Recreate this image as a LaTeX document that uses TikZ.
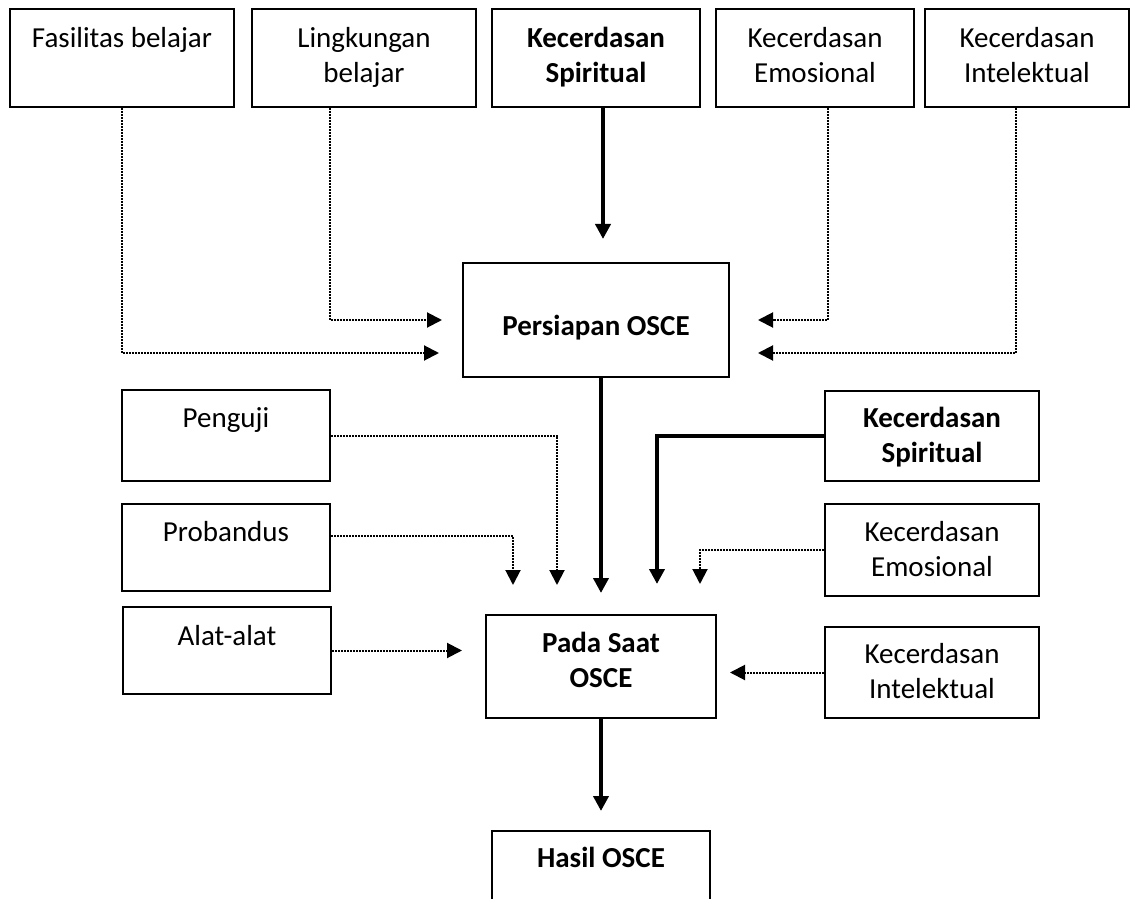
\documentclass[tikz,border=0pt]{standalone}
\usepackage{fontspec}
\setmainfont{Carlito}
\usetikzlibrary{arrows.meta,positioning}

\begin{document}
\begin{tikzpicture}[x=0.5pt, y=-0.5pt,
        box/.style={rectangle, draw, line width=1pt, inner sep=0pt},
        txt/.style={anchor=north, align=center, inner sep=0pt, font=\fontsize{14.5}{17.3}\selectfont},
        boldtxt/.style={txt, font=\fontsize{14.5}{17.3}\selectfont\bfseries},
        solidarrow/.style={line width=2pt, -{Triangle[width=7.5pt,length=7.5pt]}},
        dotarrow/.style={line width=1pt, dash pattern=on 0.8pt off 0.7pt, -{Triangle[width=7.5pt,length=7.5pt]}}
    ]
        \useasboundingbox (0,0) rectangle (1132,899);

        % top row
        \node[box, minimum width=112pt, minimum height=49pt] (fas) at (122,58) {};
        \node[box, minimum width=112pt, minimum height=49pt] (lin) at (364,58) {};
        \node[box, minimum width=104pt, minimum height=49pt] (spiA) at (596,58) {};
        \node[box, minimum width=99pt, minimum height=49pt] (emoA) at (815,58) {};
        \node[box, minimum width=102pt, minimum height=49pt] (intA) at (1027,58) {};
        \node[txt] (fasT) at ([yshift=-9.5pt]fas.north) {Fasilitas belajar};
        \node[txt] (linT) at ([yshift=-9.5pt]lin.north) {Lingkungan\\belajar};
        \node[boldtxt] (spiAT) at ([yshift=-9.5pt]spiA.north) {Kecerdasan\\Spiritual};
        \node[txt] (emoAT) at ([yshift=-9.5pt]emoA.north) {Kecerdasan\\Emosional};
        \node[txt] (intAT) at ([yshift=-9.5pt]intA.north) {Kecerdasan\\Intelektual};

        % middle
        \node[box, minimum width=133pt, minimum height=57pt] (pers) at (596,320) {};
        \node[boldtxt] (persT) at ([yshift=-26.5pt]pers.north) {Persiapan OSCE};

        % left column
        \node[box, minimum width=104pt, minimum height=45.5pt] (pen) at (226,435.5) {};
        \node[box, minimum width=104pt, minimum height=43.5pt] (pro) at (226,547.5) {};
        \node[box, minimum width=104pt, minimum height=43.5pt] (alat) at (227,650.5) {};
        \node[txt] (penT) at ([yshift=-9pt]pen.north) {Penguji};
        \node[txt] (proT) at ([yshift=-9pt]pro.north) {Probandus};
        \node[txt] (alatT) at ([yshift=-9.5pt]alat.north) {Alat-alat};

        % right column
        \node[box, minimum width=107pt, minimum height=45pt] (spiB) at (932,436) {};
        \node[box, minimum width=107pt, minimum height=46pt] (emoB) at (932,550) {};
        \node[box, minimum width=107pt, minimum height=45.5pt] (intB) at (932,672.5) {};
        \node[boldtxt] (spiBT) at ([yshift=-8.5pt]spiB.north) {Kecerdasan\\Spiritual};
        \node[txt] (emoBT) at ([yshift=-9pt]emoB.north) {Kecerdasan\\Emosional};
        \node[txt] (intBT) at ([yshift=-8.5pt]intB.north) {Kecerdasan\\Intelektual};

        % bottom
        \node[box, minimum width=115pt, minimum height=51.5pt] (pada) at (601,666.5) {};
        \node[boldtxt] (padaT) at ([yshift=-9pt]pada.north) {Pada Saat\\OSCE};
        \node[box, minimum width=109pt, minimum height=60pt] (hasil) at (601,891) {};
        \node[boldtxt] (hasilT) at ([yshift=-8.5pt]hasil.north) {Hasil OSCE};

        \draw[solidarrow, shorten >=11.5pt] ([xshift=3.5pt]spiA.south) -- ([xshift=3.5pt]pers.north);
        \draw[dotarrow, shorten >=11.5pt] (fas.south) |- ([yshift=-16.5pt]pers.west);
        \draw[dotarrow, shorten >=10pt] ([xshift=-17pt]lin.south) |- (pers.west);
        \draw[dotarrow, shorten >=14pt] ([xshift=6.5pt]emoA.south) |- (pers.east);
        \draw[dotarrow, shorten >=14pt] ([xshift=-5.5pt]intA.south) |- ([yshift=-16.5pt]pers.east);
        \draw[solidarrow, shorten >=10.5pt] ([xshift=2.5pt]pers.south) -- (pada.north);

        \draw[dotarrow, shorten >=14.5pt] (pen.east) -| ([xshift=-22pt]pada.north);
        \draw[dotarrow, shorten >=14.5pt] ([yshift=5.75pt]pro.east) -| ([xshift=-44pt]pada.north);
        \draw[dotarrow, shorten >=11.5pt] (alat.east) -- (alat.east -| pada.west);
        \draw[solidarrow, shorten >=15pt] (spiB.west) -| ([xshift=28pt]pada.north);
        \draw[dotarrow, shorten >=15pt] (emoB.west) -| ([xshift=49.5pt]pada.north);
        \draw[dotarrow, shorten >=6.5pt] (intB.west) -- (intB.west -| pada.east);
        \draw[solidarrow, shorten >=9.5pt] (pada.south) -- (hasil.north);
    \end{tikzpicture}
\end{document}
